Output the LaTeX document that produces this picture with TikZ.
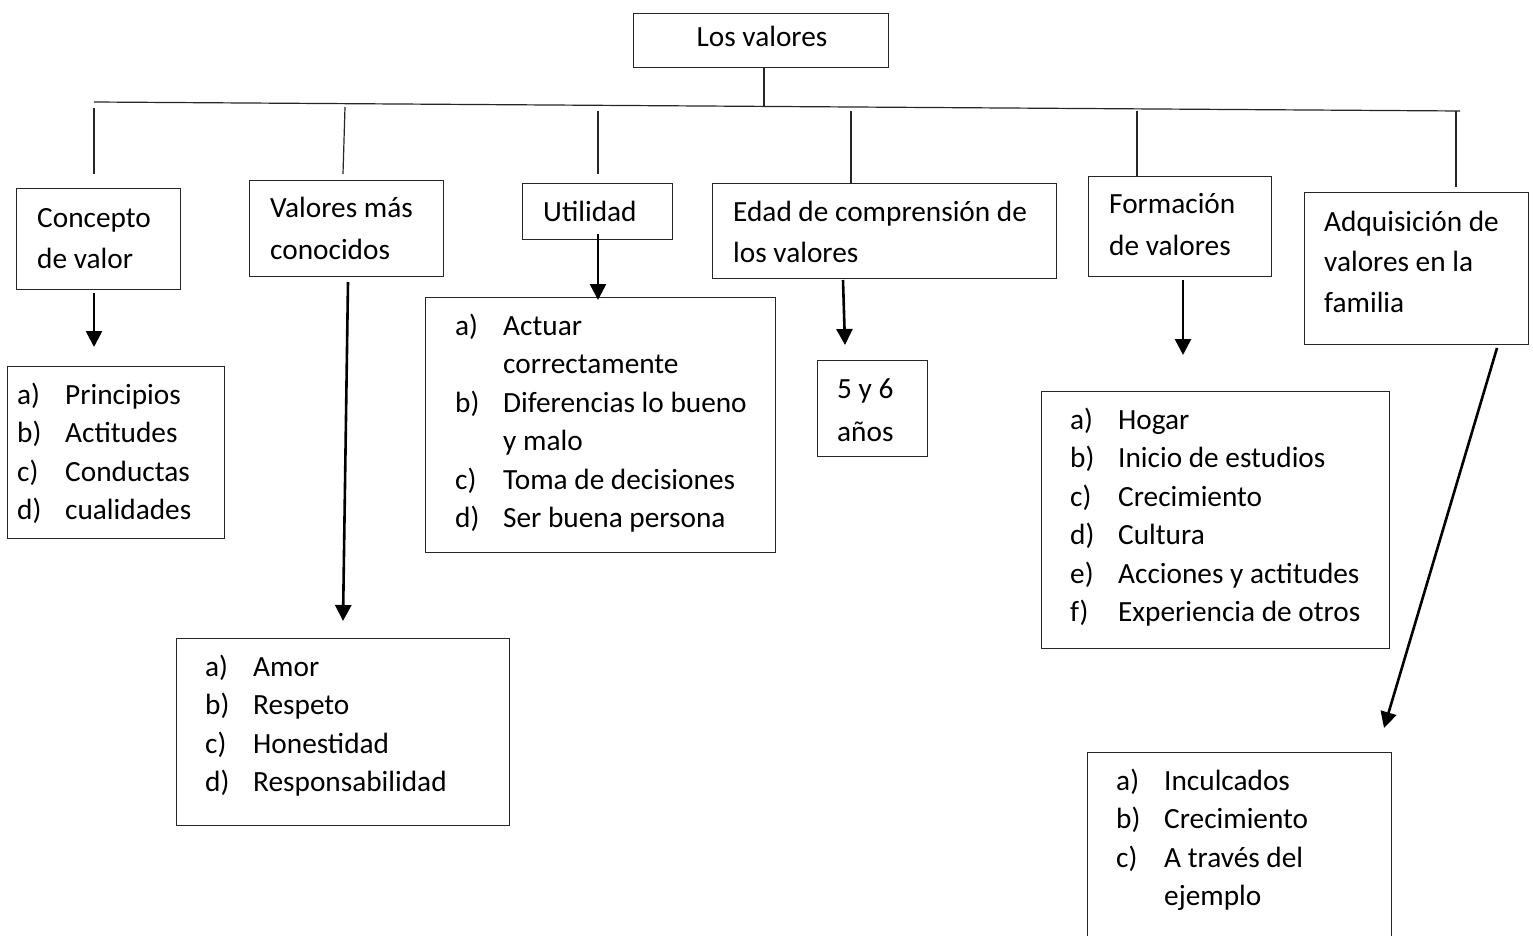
\documentclass[tikz,border=0pt]{standalone}
\usepackage{fontspec}
\setmainfont{Carlito}
\usetikzlibrary{arrows.meta}
\newcommand\itm[1]{\makebox[48pt][l]{#1}}
\begin{document}
\begin{tikzpicture}[x=1pt,y=-1pt,
 box/.style={draw=black!85, line width=1.3pt, inner sep=0pt, anchor=north west},
 txt/.style={inner sep=0pt, anchor=base west, font=\fontsize{29.3}{41}\selectfont},
 lst/.style={inner sep=0pt, anchor=base west, font=\fontsize{29.3}{38.5}\selectfont},
 ln/.style={line width=1.2pt, draw=black!85},
 arr/.style={line width=2.6pt, draw=black, -{Triangle[width=16pt,length=16pt]}}]
\useasboundingbox[fill=white] (0,0) rectangle (1533,936);
% boxes
\node[box, minimum width=255pt, minimum height=54pt] (top) at (633,13) {};
\node[box, minimum width=164pt, minimum height=101pt] (b1) at (16,188) {};
\node[box, minimum width=194pt, minimum height=96pt] (b2) at (249,180) {};
\node[box, minimum width=150pt, minimum height=56pt] (b3) at (522,183) {};
\node[box, minimum width=344pt, minimum height=95pt] (b4) at (712,183) {};
\node[box, minimum width=183pt, minimum height=100pt] (b5) at (1088,176) {};
\node[box, minimum width=224pt, minimum height=152pt] (b6) at (1304,192) {};
\node[box, minimum width=217pt, minimum height=172pt] (l1) at (7,366) {};
\node[box, minimum width=333pt, minimum height=187pt] (l2) at (176,638) {};
\node[box, minimum width=350pt, minimum height=255pt] (l3) at (425,297) {};
\node[box, minimum width=110pt, minimum height=96pt] (l4) at (817,360) {};
\node[box, minimum width=348pt, minimum height=257pt] (l5) at (1041,391) {};
\node[box, minimum width=304pt, minimum height=208pt] (l6) at (1087,752) {};
% texts
\node[txt, anchor=base] (ttop) at (762,47) {Los valores};
\node[txt] (t1) at (37,227) {\begin{tabular}[t]{@{}l@{}}Concepto\\de valor\end{tabular}};
\node[txt, font=\fontsize{29.3}{42}\selectfont] (t2) at (270,218) {\begin{tabular}[t]{@{}l@{}}Valores más\\conocidos\end{tabular}};
\node[txt] (t3) at (543,221) {Utilidad};
\node[txt] (t4) at (733,221) {\begin{tabular}[t]{@{}l@{}}Edad de comprensión de\\los valores\end{tabular}};
\node[txt] (t5) at (1109,214) {\begin{tabular}[t]{@{}l@{}}Formación\\de valores\end{tabular}};
\node[txt, font=\fontsize{29.3}{40.5}\selectfont] (t6) at (1324,231) {\begin{tabular}[t]{@{}l@{}}Adquisición de\\valores en la\\familia\end{tabular}};
\node[txt, font=\fontsize{29.3}{43}\selectfont] (t7) at (837,398) {\begin{tabular}[t]{@{}l@{}}5 y 6\\años\end{tabular}};
\node[lst] (s1) at (17,404) {\begin{tabular}[t]{@{}l@{}}\itm{a)}Principios\\\itm{b)}Actitudes\\\itm{c)}Conductas\\\itm{d)}cualidades\end{tabular}};
\node[lst] (s2) at (205,676) {\begin{tabular}[t]{@{}l@{}}\itm{a)}Amor\\\itm{b)}Respeto\\\itm{c)}Honestidad\\\itm{d)}Responsabilidad\end{tabular}};
\node[lst] (s3) at (455,335) {\begin{tabular}[t]{@{}l@{}}\itm{a)}Actuar\\\itm{}correctamente\\\itm{b)}Diferencias lo bueno\\\itm{}y malo\\\itm{c)}Toma de decisiones\\\itm{d)}Ser buena persona\end{tabular}};
\node[lst] (s5) at (1070,429) {\begin{tabular}[t]{@{}l@{}}\itm{a)}Hogar\\\itm{b)}Inicio de estudios\\\itm{c)}Crecimiento\\\itm{d)}Cultura\\\itm{e)}Acciones y actitudes\\\itm{f)}Experiencia de otros\end{tabular}};
\node[lst] (s6) at (1116,790) {\begin{tabular}[t]{@{}l@{}}\itm{a)}Inculcados\\\itm{b)}Crecimiento\\\itm{c)}A través del\\\itm{}ejemplo\end{tabular}};
% tree lines
\coordinate (hl) at (94,102);
\coordinate (hr) at (1460,111);
\coordinate (hs) at (764,106);
\draw[ln] (hl) -- (hr);
\draw[ln] (top.south -| hs) -- (hs);
\coordinate (d1a) at (94,108);   \coordinate (d1b) at (94,174);
\coordinate (d2a) at (345,107);  \coordinate (d2b) at (343,174);
\coordinate (d3a) at (598,111);  \coordinate (d3b) at (598,174);
\coordinate (d4a) at (851,111);
\coordinate (d5a) at (1137,111);
\coordinate (d6a) at (1456,111); \coordinate (d6b) at (1456,187);
\draw[ln] (d1a) -- (d1b);
\draw[ln] (d2a) -- (d2b);
\draw[ln] (d3a) -- (d3b);
\draw[ln] (d4a) -- (d4a |- b4.north);
\draw[ln] (d5a) -- (d5a |- b5.north);
\draw[ln] (d6a) -- (d6b);
% arrows
\coordinate (a1a) at (94,293);   \coordinate (a1b) at (94,347);
\coordinate (a2a) at (348,282);  \coordinate (a2b) at (343,621);
\coordinate (a3a) at (598,234);  \coordinate (a3b) at (598,300);
\coordinate (a4a) at (843,280);  \coordinate (a4b) at (845,345);
\coordinate (a5a) at (1183,280); \coordinate (a5b) at (1183,355);
\coordinate (a6a) at (1497,348); \coordinate (a6b) at (1384,728);
\draw[arr] (a1a) -- (a1b);
\draw[arr] (a2a) -- (a2b);
\draw[arr] (a3a) -- (a3b);
\draw[arr] (a4a) -- (a4b);
\draw[arr] (a5a) -- (a5b);
\draw[arr] (a6a) -- (a6b);
\end{tikzpicture}
\end{document}
